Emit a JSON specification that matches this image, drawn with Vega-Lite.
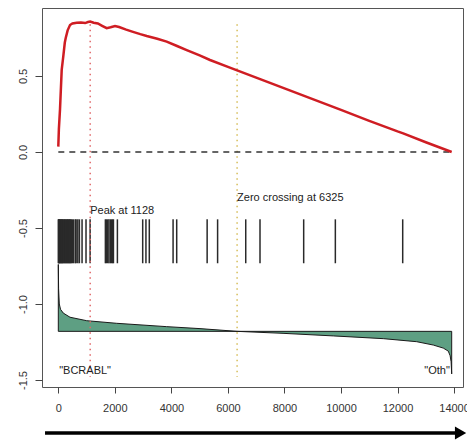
{
  "$schema": "https://vega.github.io/schema/vega-lite/v6.json",
  "autosize": {"type": "none"},
  "width": 421,
  "height": 379,
  "padding": {"left": 42, "top": 8, "right": 4, "bottom": 53},
  "background": "white",
  "config": {
    "view": {"stroke": "#555", "strokeWidth": 1},
    "font": "Liberation Sans",
    "axis": {"grid": false, "domain": false, "tickColor": "#444", "labelColor": "#333", "labelFont": "Liberation Sans", "labelFontSize": 11, "title": null}
  },
  "datasets": {
    "es": [
      {"x": 0, "y": 0.035}, {"x": 20, "y": 0.15}, {"x": 60, "y": 0.28}, {"x": 120, "y": 0.54}, {"x": 177, "y": 0.63},
      {"x": 230, "y": 0.72}, {"x": 262, "y": 0.75}, {"x": 330, "y": 0.8}, {"x": 414, "y": 0.835}, {"x": 500, "y": 0.845},
      {"x": 651, "y": 0.85}, {"x": 800, "y": 0.852}, {"x": 950, "y": 0.848}, {"x": 1050, "y": 0.855}, {"x": 1128, "y": 0.858},
      {"x": 1250, "y": 0.85}, {"x": 1400, "y": 0.845}, {"x": 1550, "y": 0.83}, {"x": 1712, "y": 0.814}, {"x": 1850, "y": 0.82},
      {"x": 2006, "y": 0.829}, {"x": 2150, "y": 0.822}, {"x": 2400, "y": 0.805}, {"x": 2642, "y": 0.79}, {"x": 2900, "y": 0.775},
      {"x": 3127, "y": 0.763}, {"x": 3500, "y": 0.745}, {"x": 3834, "y": 0.726}, {"x": 4200, "y": 0.697}, {"x": 4542, "y": 0.67},
      {"x": 5000, "y": 0.635}, {"x": 5366, "y": 0.605}, {"x": 6000, "y": 0.56}, {"x": 6325, "y": 0.537}, {"x": 7000, "y": 0.489},
      {"x": 8000, "y": 0.418}, {"x": 9000, "y": 0.348}, {"x": 10000, "y": 0.277}, {"x": 11000, "y": 0.205}, {"x": 12000, "y": 0.135},
      {"x": 12200, "y": 0.122}, {"x": 13000, "y": 0.064}, {"x": 13916, "y": 0.0}
    ],
    "stat": [
      {"x": 0, "y": -0.74, "base": -1.18}, {"x": 10, "y": -0.9, "base": -1.18}, {"x": 35, "y": -1.0, "base": -1.18},
      {"x": 78, "y": -1.035, "base": -1.18}, {"x": 177, "y": -1.06, "base": -1.18}, {"x": 414, "y": -1.087, "base": -1.18},
      {"x": 1005, "y": -1.11, "base": -1.18}, {"x": 2066, "y": -1.127, "base": -1.18}, {"x": 3834, "y": -1.149, "base": -1.18},
      {"x": 5012, "y": -1.162, "base": -1.18}, {"x": 6325, "y": -1.18, "base": -1.18}, {"x": 7949, "y": -1.193, "base": -1.18},
      {"x": 9728, "y": -1.21, "base": -1.18}, {"x": 11496, "y": -1.228, "base": -1.18}, {"x": 12678, "y": -1.248, "base": -1.18},
      {"x": 13265, "y": -1.27, "base": -1.18}, {"x": 13618, "y": -1.29, "base": -1.18}, {"x": 13795, "y": -1.31, "base": -1.18},
      {"x": 13860, "y": -1.34, "base": -1.18}, {"x": 13895, "y": -1.38, "base": -1.18}, {"x": 13916, "y": -1.46, "base": -1.18}
    ],
    "hits": [
      {"x": 0}, {"x": 15}, {"x": 30}, {"x": 45}, {"x": 60}, {"x": 80}, {"x": 100}, {"x": 120}, {"x": 140}, {"x": 160},
      {"x": 185}, {"x": 210}, {"x": 235}, {"x": 260}, {"x": 285}, {"x": 310}, {"x": 335}, {"x": 360}, {"x": 385}, {"x": 410},
      {"x": 435}, {"x": 460}, {"x": 500}, {"x": 540}, {"x": 600}, {"x": 630}, {"x": 690}, {"x": 745}, {"x": 840}, {"x": 980},
      {"x": 1125}, {"x": 1665}, {"x": 1700}, {"x": 1745}, {"x": 1790}, {"x": 1840}, {"x": 1880}, {"x": 1920}, {"x": 1950},
      {"x": 2090}, {"x": 2985}, {"x": 3100}, {"x": 3219}, {"x": 4060}, {"x": 4188}, {"x": 5265}, {"x": 5635}, {"x": 6630},
      {"x": 7135}, {"x": 8680}, {"x": 9800}, {"x": 12183}
    ],
    "vlines": [
      {"x": 1128, "top": 0.84, "bottom": -1.48, "kind": "peak"},
      {"x": 6325, "top": 0.84, "bottom": -1.48, "kind": "zero"}
    ],
    "hline": [{"x1": 0, "x2": 13916, "y": 0}],
    "baseline": [{"x1": 0, "x2": 13916, "y": -1.18}],
    "edges": [{"x": 0, "y1": -1.18, "y2": -0.74}, {"x": 13916, "y1": -1.18, "y2": -1.46}],
    "labelsLeft": [
      {"x": 1128, "y": -0.388, "text": "Peak at 1128"},
      {"x": 6325, "y": -0.3, "text": "Zero crossing at 6325"},
      {"x": 30, "y": -1.44, "text": "\"BCRABL\""}
    ],
    "labelsRight": [
      {"x": 13850, "y": -1.44, "text": "\"Oth\""}
    ],
    "arrow": [{"x1": -470, "x2": 14050, "y": -1.849}],
    "arrowhead": [{"x": 14230, "y": -1.849}]
  },
  "layer": [
    {
      "data": {"name": "stat"},
      "mark": {"type": "area", "color": "#5e9f83", "opacity": 1},
      "encoding": {
        "x": {"field": "x", "type": "quantitative", "scale": {"domain": [-577, 14316], "nice": false, "zero": false},
              "axis": {"values": [0, 2000, 4000, 6000, 8000, 10000, 12000, 14000], "tickSize": 6, "labelPadding": 9, "format": "d"}},
        "y": {"field": "y", "type": "quantitative", "scale": {"domain": [-1.546, 0.947], "nice": false, "zero": false},
              "axis": {"values": [-1.5, -1, -0.5, 0, 0.5], "tickSize": 7, "labelPadding": 7, "labelAngle": -90,
                       "labelExpr": "replace(format(datum.value, '.1f'), '\u2212', '-')"}},
        "y2": {"field": "base"}
      }
    },
    {
      "data": {"name": "stat"},
      "mark": {"type": "line", "color": "#1a1a1a", "strokeWidth": 1},
      "encoding": {"x": {"field": "x", "type": "quantitative"}, "y": {"field": "y", "type": "quantitative"}}
    },
    {
      "data": {"name": "baseline"},
      "mark": {"type": "rule", "color": "#1a1a1a", "strokeWidth": 1},
      "encoding": {"x": {"field": "x1", "type": "quantitative"}, "x2": {"field": "x2"}, "y": {"field": "y", "type": "quantitative"}}
    },
    {
      "data": {"name": "edges"},
      "mark": {"type": "rule", "color": "#1a1a1a", "strokeWidth": 1},
      "encoding": {"x": {"field": "x", "type": "quantitative"}, "y": {"field": "y1", "type": "quantitative"}, "y2": {"field": "y2"}}
    },
    {
      "data": {"name": "hits"},
      "mark": {"type": "rule", "color": "#2a2a2a", "strokeWidth": 1.5},
      "encoding": {"x": {"field": "x", "type": "quantitative"}, "y": {"datum": -0.443}, "y2": {"datum": -0.732}}
    },
    {
      "data": {"name": "vlines"},
      "mark": {"type": "rule", "strokeWidth": 1.5, "strokeDash": [1.5, 4]},
      "encoding": {
        "x": {"field": "x", "type": "quantitative"},
        "y": {"field": "top", "type": "quantitative"},
        "y2": {"field": "bottom"},
        "color": {"field": "kind", "type": "nominal", "scale": {"domain": ["peak", "zero"], "range": ["#e0696a", "#d6bd5a"]}, "legend": null}
      }
    },
    {
      "data": {"name": "hline"},
      "mark": {"type": "rule", "color": "#333", "strokeWidth": 1.5, "strokeDash": [6, 5]},
      "encoding": {"x": {"field": "x1", "type": "quantitative"}, "x2": {"field": "x2"}, "y": {"field": "y", "type": "quantitative"}}
    },
    {
      "data": {"name": "es"},
      "mark": {"type": "line", "color": "#cf1d23", "strokeWidth": 2.5},
      "encoding": {"x": {"field": "x", "type": "quantitative"}, "y": {"field": "y", "type": "quantitative"}}
    },
    {
      "data": {"name": "labelsLeft"},
      "mark": {"type": "text", "fontSize": 11, "color": "#222", "baseline": "middle", "align": "left", "font": "Liberation Sans"},
      "encoding": {
        "x": {"field": "x", "type": "quantitative"},
        "y": {"field": "y", "type": "quantitative"},
        "text": {"field": "text"}
      }
    },
    {
      "data": {"name": "labelsRight"},
      "mark": {"type": "text", "fontSize": 11, "color": "#222", "baseline": "middle", "align": "right", "font": "Liberation Sans"},
      "encoding": {
        "x": {"field": "x", "type": "quantitative"},
        "y": {"field": "y", "type": "quantitative"},
        "text": {"field": "text"}
      }
    },
    {
      "data": {"name": "arrow"},
      "mark": {"type": "rule", "color": "black", "strokeWidth": 3.5, "clip": false},
      "encoding": {"x": {"field": "x1", "type": "quantitative"}, "x2": {"field": "x2"}, "y": {"field": "y", "type": "quantitative"}}
    },
    {
      "data": {"name": "arrowhead"},
      "mark": {"type": "point", "shape": "triangle-right", "filled": true, "color": "black", "size": 170, "opacity": 1, "clip": false},
      "encoding": {"x": {"field": "x", "type": "quantitative"}, "y": {"field": "y", "type": "quantitative"}}
    }
  ]
}
